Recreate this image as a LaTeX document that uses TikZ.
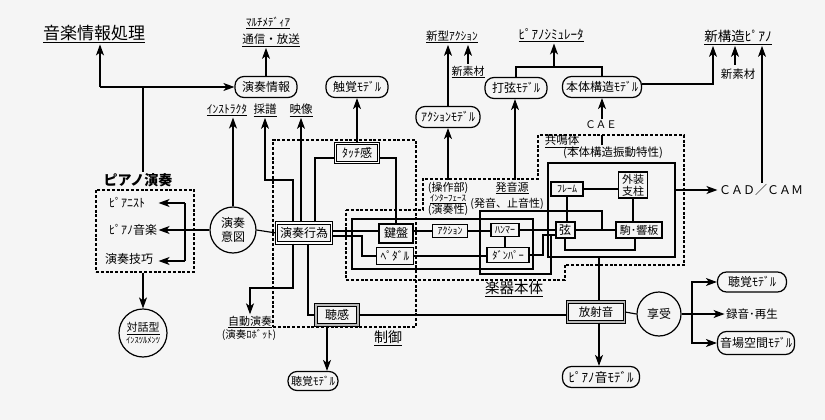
\documentclass[tikz,border=0pt]{standalone}
\usepackage{fontspec}
\setmainfont{Noto Sans CJK JP}
\usetikzlibrary{arrows.meta,calc}
\newcommand{\myfs}[1]{\fontsize{#1}{#1}\selectfont}
\begin{document}
\begin{tikzpicture}[x=1pt,y=-1pt,
  line width=1.15pt,
  arr/.style={-{Stealth[length=11pt,width=8pt,inset=3pt]}},
  dsh/.style={draw, dash pattern=on 3pt off 1.8pt, line width=1.2pt},
  rbox/.style={draw, rounded corners=9pt, minimum height=21pt, inner sep=2pt, line width=1.2pt},
  sbox/.style={draw, inner sep=1pt, line width=1.15pt},
  tbox/.style={draw, inner sep=1pt, line width=2pt},
  dbox/.style={draw, double=white, double distance=1.4pt, line width=1.1pt, inner sep=1pt},
  gbox/.style={dbox, double=gray!55},
  circ/.style={draw, circle, inner sep=0pt, line width=1.2pt},
  lbl/.style={inner sep=1pt},
]
\fill[black!4] (0,0) rectangle (825,420);
\useasboundingbox (0,0) rectangle (825,420);

% ---------- dashed group boxes ----------
\node[dsh, minimum width=98pt, minimum height=82pt] (boxPiano) at (145,231) {};
\node[dsh, minimum width=143pt, minimum height=187pt] (boxSeigyo) at (344.5,233.5) {};
\draw[dsh] (346,210) -- (423,210) -- (423,179) -- (538,179) -- (538,135) -- (684,135)
  -- (684,265) -- (565,265) -- (565,280) -- (346,280) -- cycle;

% ---------- solid group outlines ----------
\draw (352,219) rectangle (533,269);
\draw (548,163) rectangle (675,257);

% ---------- top labels ----------
\node[lbl, font=\myfs{17}] (tTitle) at (94,34) {\underline{音楽情報処理}};
\node[lbl, font=\myfs{11}] (tMulti) at (268,23) {\underline{ﾏﾙﾁﾒﾃﾞｨｱ}};
\node[lbl, font=\myfs{11.5}] (tTsushin) at (271,40) {\underline{通信・放送}};
\node[rbox, minimum width=62pt, font=\myfs{12}] (nEnsoJoho) at (266,87) {演奏情報};
\node[rbox, minimum width=62pt, font=\myfs{12}] (nShokaku) at (357,87) {触覚ﾓﾃﾞﾙ};
\node[lbl, font=\myfs{11.5}] (tShingata) at (452,37) {\underline{新型ｱｸｼｮﾝ}};
\node[lbl, font=\myfs{11}] (tShinsozai1) at (468,72) {\underline{新素材}};
\node[rbox, minimum width=64pt, font=\myfs{12}] (nAction) at (448,117) {ｱｸｼｮﾝﾓﾃﾞﾙ};
\node[lbl, font=\myfs{13}] (tSimu) at (551,35) {\underline{ﾋﾟｱﾉｼﾐｭﾚｰﾀ}};
\node[rbox, minimum width=62pt, font=\myfs{12}] (nDagen) at (516,88) {打弦ﾓﾃﾞﾙ};
\node[rbox, minimum width=79pt, font=\myfs{12}] (nHontai) at (602,87) {本体構造ﾓﾃﾞﾙ};
\node[lbl, font=\myfs{13.5}] (tShinkozo) at (738,37) {\underline{新構造ﾋﾟｱﾉ}};
\node[lbl, font=\myfs{11.5}] (tShinsozai2) at (738,74) {新素材};
\node[lbl, font=\myfs{10.5}] (tCAE) at (601,125) {ＣＡＥ};
\node[lbl, font=\myfs{12}] (tCADCAM) at (761,190) {ＣＡＤ／ＣＡＭ};

\node[lbl, font=\myfs{11.5}] (tInst) at (227,110) {\underline{ｲﾝｽﾄﾗｸﾀ}};
\node[lbl, font=\myfs{11.5}] (tSaifu) at (265,110) {\underline{採譜}};
\node[lbl, font=\myfs{11.5}] (tEizo) at (301,110) {\underline{映像}};

% ---------- piano performance ----------
\node[lbl, font=\myfs{14}\bfseries] (tPiano) at (138,180) {ピアノ演奏};
\node[lbl, font=\myfs{12}] (tPianist) at (127,203) {ﾋﾟｱﾆｽﾄ};
\node[lbl, font=\myfs{12}] (tPMusic) at (133,230) {ﾋﾟｱﾉ音楽};
\node[lbl, font=\myfs{12}] (tGiko) at (129,259) {演奏技巧};
\node[circ, minimum size=46pt, align=center, font=\fontsize{12}{14}\selectfont] (nIto) at (233,230) {演奏\\意図};
\node[circ, minimum size=48pt, align=center, font=\fontsize{11}{12}\selectfont] (nTaiwa) at (143,333) {\underline{対話型}\\{\fontsize{8.5}{9}\selectfont ｲﾝｽﾂﾙﾒﾝﾂ}};

% ---------- control ----------
\node[dbox, minimum width=55pt, minimum height=20pt, font=\myfs{12}] (nKoi) at (304,233) {演奏行為};
\node[dbox, minimum width=43pt, minimum height=19pt, font=\myfs{12}] (nTouch) at (357,153) {ﾀｯﾁ感};
\node[gbox, minimum width=42pt, minimum height=20pt, font=\myfs{12}] (nChokan) at (337,315) {聴感};
\node[lbl, font=\myfs{14}] (tSeigyo) at (388,338) {\underline{制御}};
\node[lbl, font=\myfs{11}] (tJido) at (250,322) {\underline{自動演奏}};
\node[lbl, font=\myfs{10.5}] (tRobot) at (249,335) {(演奏ﾛﾎﾞｯﾄ)};
\node[rbox, minimum width=50pt, minimum height=19pt, font=\myfs{11}] (nChokakuL) at (313,381) {聴覚ﾓﾃﾞﾙ};

% ---------- instrument body ----------
\node[tbox, minimum width=34pt, minimum height=19pt, font=\myfs{12}] (nKenban) at (396,233) {鍵盤};
\node[sbox, minimum width=37pt, minimum height=17pt, font=\myfs{11.5}] (nPedal) at (395,256) {ﾍﾟﾀﾞﾙ};
\node[sbox, minimum width=35pt, minimum height=13pt, font=\myfs{10}] (nActBox) at (450,231) {ｱｸｼｮﾝ};
\node[sbox, minimum width=28pt, minimum height=13pt, font=\myfs{10}] (nHammer) at (505,230) {ﾊﾝﾏｰ};
\node[sbox, minimum width=42pt, minimum height=15pt, font=\myfs{10.5}] (nDamper) at (508,255) {ﾀﾞﾝﾊﾟｰ};
\node[tbox, minimum width=19pt, minimum height=16pt, font=\myfs{12}] (nGen) at (565,230) {弦};
\node[sbox, minimum width=32pt, minimum height=14pt, font=\myfs{10}] (nFrame) at (567,189) {ﾌﾚｰﾑ};
\node[sbox, minimum width=29pt, minimum height=26pt, align=center, font=\fontsize{11}{12}\selectfont] (nGaiso) at (633,185) {外装\\支柱};
\node[tbox, minimum width=46pt, minimum height=16pt, font=\myfs{11}] (nKoma) at (639,230) {駒･響板};

\node[lbl, align=center, font=\fontsize{11}{11}\selectfont] (tSosa) at (448,199) {(操作部)\\[-1pt]{\fontsize{9}{9}\selectfont\underline{ｲﾝﾀｰﾌｪｰｽ}}\\(演奏性)};
\node[lbl, font=\myfs{11}] (tHatsuon) at (512,188) {\underline{発音源}};
\node[lbl, font=\myfs{11}] (tHatsuon2) at (507,204) {(発音、止音性)};
\node[lbl, font=\myfs{11.5}] (tKyomei) at (562,141) {\underline{共鳴体}};
\node[lbl, font=\myfs{11.5}] (tKyomei2) at (613,153) {(本体構造振動特性)};
\node[lbl, font=\myfs{14.5}] (tGakki) at (514,289) {\underline{楽器本体}};

% ---------- radiation / enjoyment ----------
\node[gbox, minimum width=57pt, minimum height=20pt, font=\myfs{11.5}] (nHosha) at (596,312) {放射音};
\node[rbox, minimum width=77pt, font=\myfs{13}] (nPianoOn) at (601,377) {ﾋﾟｱﾉ音ﾓﾃﾞﾙ};
\node[circ, minimum size=44pt, font=\myfs{12}] (nKyoju) at (659,314) {享受};
\node[rbox, minimum width=69pt, minimum height=20pt, font=\myfs{12}] (nChokakuR) at (752,282) {聴覚ﾓﾃﾞﾙ};
\node[lbl, font=\myfs{11.5}] (tRokuon) at (752,314) {録音･再生};
\node[rbox, minimum width=77pt, minimum height=23pt, font=\myfs{12}] (nOnba) at (756,343) {音場空間ﾓﾃﾞﾙ};

% ---------- connectors ----------
\coordinate (jA) at (100,87);
\coordinate (jB) at (143,87);
\draw[arr] (jA) -- (jA |- tTitle.south);
\draw[arr] (jA) -- (nEnsoJoho.west);
\draw (jB) -- (jB |- tPiano.north);
\draw[arr] (boxPiano.south -| nTaiwa.north) -- (nTaiwa.north);

\coordinate (bk1) at (185,203);
\coordinate (bk2) at (185,261);
\draw (bk1) -- (bk2);
\draw[arr] (bk1) -- (bk1 -| tPMusic.east);
\draw[arr] (bk2) -- (bk2 -| tPMusic.east);
\draw[arr] (nIto.west) -- (tPMusic.east);

\draw (nIto.east) -- (nKoi.west);
\draw[arr] (nIto.north) -- (nIto.north |- tInst.south);
\coordinate (bSa) at (293,180);
\draw[arr] (nKoi.north -| bSa) -- (bSa) -| (tSaifu.south);
\draw[arr] (nKoi.north -| tEizo.south) -- (tEizo.south);
\draw ([xshift=11pt]nKoi.north) |- ([yshift=-5pt]nTouch.west);
\draw ([yshift=-5pt]nTouch.east) -| (nKenban.north);
\draw[arr] (nTouch.north) -- (nShokaku.south);
\draw[arr] (nEnsoJoho.north) -- (nEnsoJoho.north |- tTsushin.south);

\coordinate (k1) at ([yshift=2pt]nKoi.east);
\draw (k1) -- (k1 -| nKenban.west);
\coordinate (k2) at ([yshift=-3pt]nKoi.east);
\coordinate (k3) at (362,256);
\draw (k2) -| (k3) -- (nPedal.west);

\draw (nActBox.west -| nKenban.east) -- (nActBox.west);
\draw (nActBox.east) -- (nActBox.east -| nHammer.west);
\draw (nHammer.east) -- (nHammer.east -| nGen.west);
\draw (nHammer.south) -- (nHammer.south |- nDamper.north);
\draw (nPedal.east) -- (nPedal.east -| nDamper.west);
\coordinate (b1) at (543,235);
\draw (nDamper.east) -| (b1) -- (nGen.west |- b1);
\coordinate (b2) at (551,235);
\draw (b2) -- (551,274) -- (480,274) -- (480,211) -- (602,211) -- (602,230);

\coordinate (b3) at (635,250);
\draw (nGen.south) |- (b3) -- (b3 |- nKoma.south);
\draw (nGen.east) -- (nKoma.west);
\draw (nFrame.east) -- (nFrame.east -| nGaiso.west);
\draw (nFrame.south) -- (nFrame.south |- nGen.north);
\draw (nGaiso.south) -- (nGaiso.south |- nKoma.north);
\coordinate (b4) at (675,190);
\draw[arr] (b4) -- (tCADCAM.west);

\coordinate (b5) at (599,257);
\draw (b5) -- (b5 |- nHosha.north);
\draw[arr] (b5 |- nHosha.south) -- (b5 |- nPianoOn.north);
\draw (nChokan.east) -- (nChokan.east -| nHosha.west);
\draw (nHosha.east) -- (nKyoju.west);
\coordinate (b6) at (692,314);
\draw (nKyoju.east) -- (b6);
\draw[arr] (b6) |- (nChokakuR.west);
\draw[arr] (b6) -- (tRokuon.west);
\draw[arr] (b6) |- (nOnba.west);

\coordinate (b7) at (293,288);
\draw[arr] (nKoi.south -| b7) -- (b7) -| (tJido.north);
\coordinate (b8) at (308,315);
\draw (nKoi.south -| b8) |- (nChokan.west);
\coordinate (b9) at (327,340);
\draw[arr] (nChokan.south -| b9) -- (b9 |- nChokakuL.north);

\draw[arr] (tSosa.north) -- (nAction.south);
\coordinate (b10) at (515,180);
\draw[arr] (b10) -- (b10 |- nDagen.south);
\coordinate (b11) at (602,135);
\draw (tKyomei2.north -| b11) -- (b11);
\draw[arr] (tCAE.north -| nHontai.south) -- (nHontai.south);
\coordinate (b12) at (554,67);
\draw (nDagen.north) |- (b12) -| (nHontai.north);
\draw[arr] (b12) -- (b12 |- tSimu.south);
\draw[arr] (nAction.north) -- (nAction.north |- tShingata.south);
\coordinate (b13) at (468,64);
\draw[arr] (b13) -- (b13 |- tShingata.south);
\coordinate (b14) at (713,84);
\draw[arr] (nHontai.east |- b14) -| (b14 |- tShinkozo.south);
\coordinate (b15) at (735,65);
\draw[arr] (b15) -- (b15 |- tShinkozo.south);
\coordinate (b16) at (762,0);
\draw[arr] (tCADCAM.north -| b16) -- (b16 |- tShinkozo.south);
\end{tikzpicture}
\end{document}
